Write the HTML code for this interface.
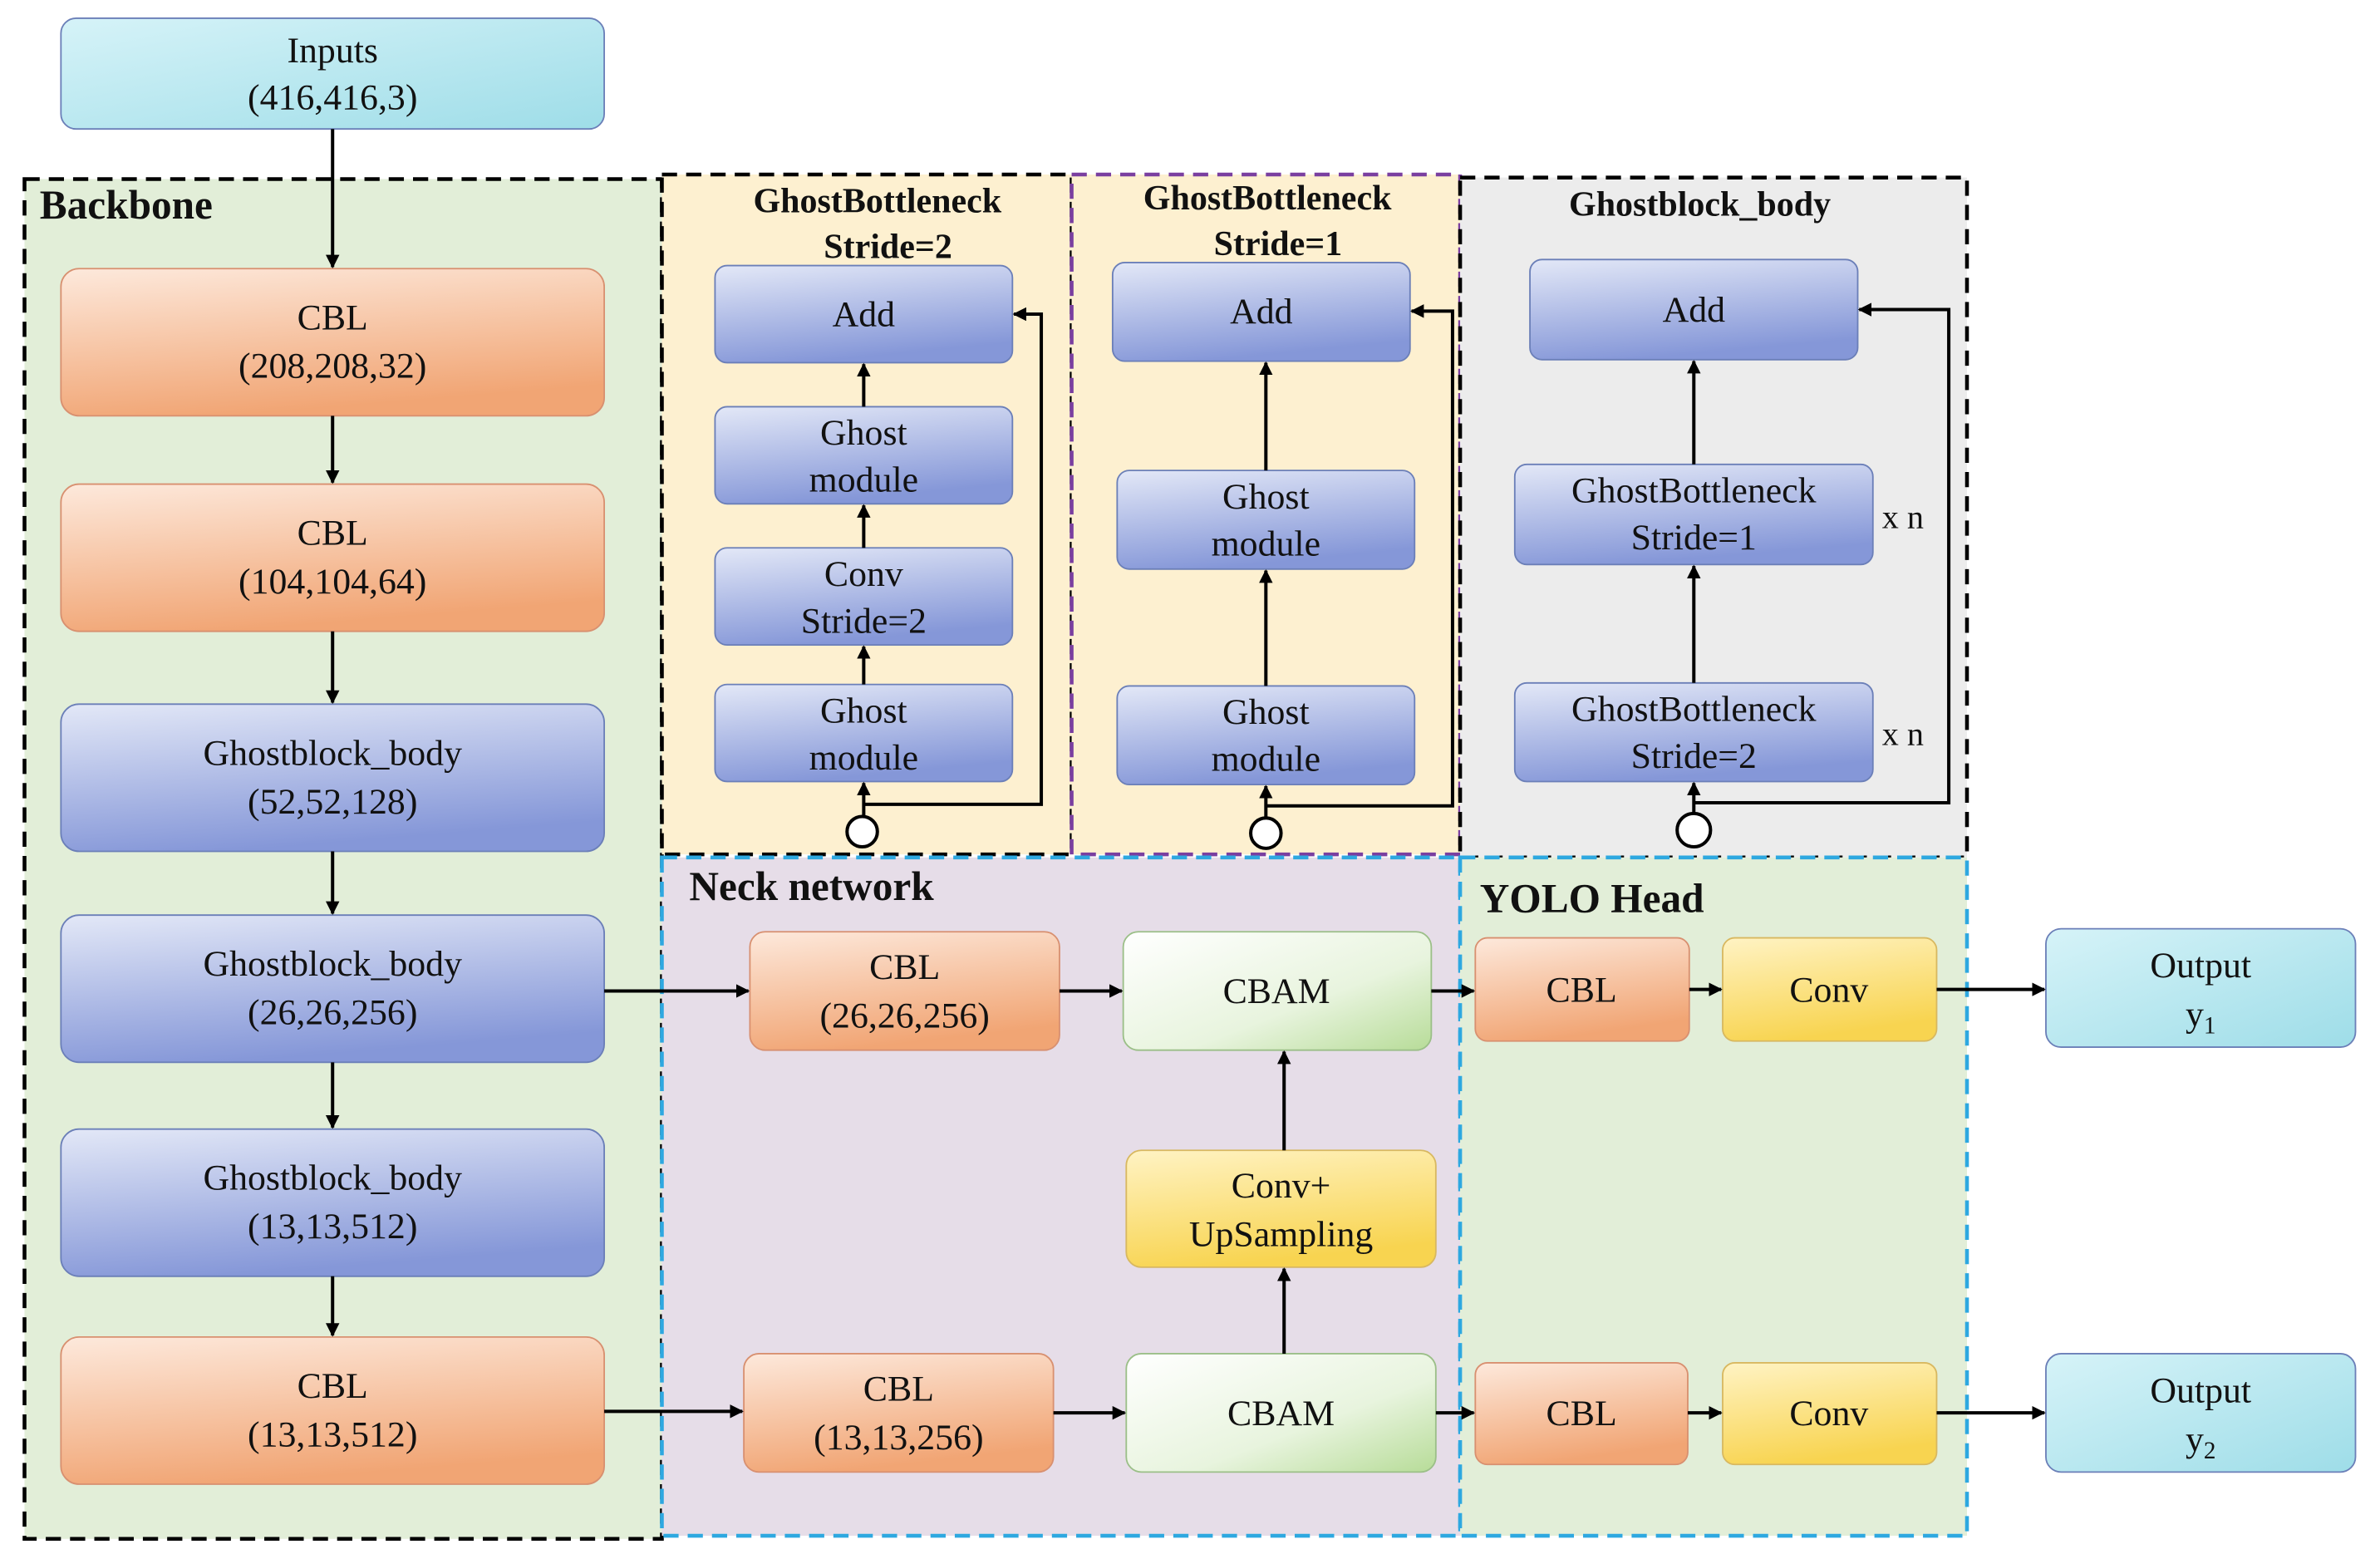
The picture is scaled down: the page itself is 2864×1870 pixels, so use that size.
<!DOCTYPE html>
<html><head><meta charset="utf-8"><style>
html,body{margin:0;padding:0;background:#fff;}
svg{display:block;}
text{font-family:"Liberation Serif","DejaVu Serif",serif !important;fill:#111;}
</style></head><body>
<svg width="2864" height="1870" viewBox="0 0 1568 1024" xmlns="http://www.w3.org/2000/svg" font-family="Liberation Serif, DejaVu Serif, serif">
<defs>
<linearGradient id="cy" x1="0" y1="0" x2="1" y2="1"><stop offset="0" stop-color="#d6f3f8"/><stop offset="1" stop-color="#9edde8"/></linearGradient>
<linearGradient id="or" x1="0" y1="0" x2="0.3" y2="1"><stop offset="0" stop-color="#fde9dc"/><stop offset="1" stop-color="#f1a574"/></linearGradient>
<linearGradient id="bl" x1="0" y1="0" x2="0.3" y2="1"><stop offset="0" stop-color="#e3e8f7"/><stop offset="1" stop-color="#8597d8"/></linearGradient>
<linearGradient id="gr" x1="0" y1="0" x2="1" y2="1"><stop offset="0" stop-color="#ffffff"/><stop offset="0.6" stop-color="#e8f4de"/><stop offset="1" stop-color="#b7dc98"/></linearGradient>
<linearGradient id="ye" x1="0" y1="0" x2="0.3" y2="1"><stop offset="0" stop-color="#fff3c4"/><stop offset="1" stop-color="#f8d450"/></linearGradient>
<marker id="a" viewBox="0 0 10 10" refX="9" refY="5" markerWidth="9" markerHeight="9" markerUnits="userSpaceOnUse" orient="auto"><path d="M0,0 L10,5 L0,10 z" fill="#000"/></marker>
</defs>

<rect x="16" y="118" width="420" height="896" fill="#e2eed8" stroke="#000" stroke-width="2.5" stroke-dasharray="10,6"/>
<rect x="436" y="115" width="270" height="448" fill="#fdf0d0" stroke="#000" stroke-width="2.5" stroke-dasharray="10,6"/>
<rect x="706" y="115" width="256" height="448" fill="#fdf0d0" stroke="#7a3fa0" stroke-width="2.5" stroke-dasharray="10,6"/>
<rect x="962" y="117" width="334" height="448" fill="#ececec" stroke="#000" stroke-width="2.5" stroke-dasharray="10,6"/>
<rect x="436" y="565" width="526" height="447" fill="#e6dde8" stroke="#2ea8e0" stroke-width="2.5" stroke-dasharray="10,6"/>
<rect x="962" y="565" width="334" height="447" fill="#e2eed8" stroke="#2ea8e0" stroke-width="2.5" stroke-dasharray="10,6"/>

<g font-weight="bold" font-size="27">
<text x="26" y="144">Backbone</text>
<text x="454" y="593">Neck network</text>
<text x="975" y="601">YOLO Head</text>
</g>
<g font-weight="bold" font-size="23" text-anchor="middle">
<text x="578" y="140">GhostBottleneck</text><text x="585" y="170">Stride=2</text>
<text x="835" y="138">GhostBottleneck</text><text x="842" y="168">Stride=1</text>
<text x="1120" y="142">Ghostblock_body</text>
</g>

<g stroke="#6b7fb8" stroke-width="1">
<rect x="40" y="12" width="358" height="73" rx="10" fill="url(#cy)"/>
<rect x="40" y="177" width="358" height="97" rx="12" fill="url(#or)" stroke="#d89070"/>
<rect x="40" y="319" width="358" height="97" rx="12" fill="url(#or)" stroke="#d89070"/>
<rect x="40" y="464" width="358" height="97" rx="12" fill="url(#bl)"/>
<rect x="40" y="603" width="358" height="97" rx="12" fill="url(#bl)"/>
<rect x="40" y="744" width="358" height="97" rx="12" fill="url(#bl)"/>
<rect x="40" y="881" width="358" height="97" rx="12" fill="url(#or)" stroke="#d89070"/>
<rect x="471" y="175" width="196" height="64" rx="8" fill="url(#bl)"/>
<rect x="471" y="268" width="196" height="64" rx="8" fill="url(#bl)"/>
<rect x="471" y="361" width="196" height="64" rx="8" fill="url(#bl)"/>
<rect x="471" y="451" width="196" height="64" rx="8" fill="url(#bl)"/>
<rect x="733" y="173" width="196" height="65" rx="8" fill="url(#bl)"/>
<rect x="736" y="310" width="196" height="65" rx="8" fill="url(#bl)"/>
<rect x="736" y="452" width="196" height="65" rx="8" fill="url(#bl)"/>
<rect x="1008" y="171" width="216" height="66" rx="8" fill="url(#bl)"/>
<rect x="998" y="306" width="236" height="66" rx="8" fill="url(#bl)"/>
<rect x="998" y="450" width="236" height="65" rx="8" fill="url(#bl)"/>
<rect x="494" y="614" width="204" height="78" rx="10" fill="url(#or)" stroke="#d89070"/>
<rect x="740" y="614" width="203" height="78" rx="10" fill="url(#gr)" stroke="#9bbf88"/>
<rect x="742" y="758" width="204" height="77" rx="10" fill="url(#ye)" stroke="#d8b860"/>
<rect x="490" y="892" width="204" height="78" rx="10" fill="url(#or)" stroke="#d89070"/>
<rect x="742" y="892" width="204" height="78" rx="10" fill="url(#gr)" stroke="#9bbf88"/>
<rect x="972" y="618" width="141" height="68" rx="8" fill="url(#or)" stroke="#d89070"/>
<rect x="1135" y="618" width="141" height="68" rx="8" fill="url(#ye)" stroke="#d8b860"/>
<rect x="1348" y="612" width="204" height="78" rx="10" fill="url(#cy)"/>
<rect x="972" y="898" width="140" height="67" rx="8" fill="url(#or)" stroke="#d89070"/>
<rect x="1135" y="898" width="141" height="67" rx="8" fill="url(#ye)" stroke="#d8b860"/>
<rect x="1348" y="892" width="204" height="78" rx="10" fill="url(#cy)"/>
</g>

<g font-size="24" text-anchor="middle">
<text x="219" y="41">Inputs</text><text x="219" y="72">(416,416,3)</text>
<text x="219" y="217">CBL</text><text x="219" y="249">(208,208,32)</text>
<text x="219" y="359">CBL</text><text x="219" y="391">(104,104,64)</text>
<text x="219" y="504">Ghostblock_body</text><text x="219" y="536">(52,52,128)</text>
<text x="219" y="643">Ghostblock_body</text><text x="219" y="675">(26,26,256)</text>
<text x="219" y="784">Ghostblock_body</text><text x="219" y="816">(13,13,512)</text>
<text x="219" y="921">CBL</text><text x="219" y="953">(13,13,512)</text>

<text x="569" y="215">Add</text>
<text x="569" y="293">Ghost</text><text x="569" y="324">module</text>
<text x="569" y="386">Conv</text><text x="569" y="417">Stride=2</text>
<text x="569" y="476">Ghost</text><text x="569" y="507">module</text>

<text x="831" y="213">Add</text>
<text x="834" y="335">Ghost</text><text x="834" y="366">module</text>
<text x="834" y="477">Ghost</text><text x="834" y="508">module</text>

<text x="1116" y="212">Add</text>
<text x="1116" y="331">GhostBottleneck</text><text x="1116" y="362">Stride=1</text>
<text x="1116" y="475">GhostBottleneck</text><text x="1116" y="506">Stride=2</text>

<text x="596" y="645">CBL</text><text x="596" y="677">(26,26,256)</text>
<text x="841" y="661">CBAM</text>
<text x="844" y="789">Conv+</text><text x="844" y="821">UpSampling</text>
<text x="592" y="923">CBL</text><text x="592" y="955">(13,13,256)</text>
<text x="844" y="939">CBAM</text>

<text x="1042" y="660">CBL</text><text x="1205" y="660">Conv</text>
<text x="1450" y="644">Output</text><text x="1450" y="676">y<tspan font-size="16" dy="5">1</tspan></text>
<text x="1042" y="939">CBL</text><text x="1205" y="939">Conv</text>
<text x="1450" y="924">Output</text><text x="1450" y="956">y<tspan font-size="16" dy="5">2</tspan></text>
</g>
<g font-size="22"><text x="1240" y="348">x n</text><text x="1240" y="491">x n</text></g>

<g stroke="#000" stroke-width="2.2" fill="none" marker-end="url(#a)">
<line x1="219" y1="85" x2="219" y2="176"/>
<line x1="219" y1="274" x2="219" y2="318"/>
<line x1="219" y1="416" x2="219" y2="463"/>
<line x1="219" y1="561" x2="219" y2="602"/>
<line x1="219" y1="700" x2="219" y2="743"/>
<line x1="219" y1="841" x2="219" y2="880"/>
<line x1="398" y1="653" x2="493" y2="653"/>
<line x1="398" y1="930" x2="489" y2="930"/>
<line x1="698" y1="653" x2="739" y2="653"/>
<line x1="694" y1="931" x2="741" y2="931"/>
<line x1="943" y1="653" x2="971" y2="653"/>
<line x1="946" y1="931" x2="971" y2="931"/>
<line x1="1113" y1="652" x2="1134" y2="652"/>
<line x1="1112" y1="931" x2="1134" y2="931"/>
<line x1="1276" y1="652" x2="1347" y2="652"/>
<line x1="1276" y1="931" x2="1347" y2="931"/>
<line x1="846" y1="892" x2="846" y2="836"/>
<line x1="846" y1="758" x2="846" y2="693"/>
<line x1="569" y1="538" x2="569" y2="516"/>
<line x1="569" y1="451" x2="569" y2="426"/>
<line x1="569" y1="361" x2="569" y2="333"/>
<line x1="569" y1="268" x2="569" y2="240"/>
<polyline points="569,530 686,530 686,207 668,207"/>
<line x1="834" y1="539" x2="834" y2="518"/>
<line x1="834" y1="452" x2="834" y2="376"/>
<line x1="834" y1="310" x2="834" y2="239"/>
<polyline points="834,531 957,531 957,205 930,205"/>
<line x1="1116" y1="537" x2="1116" y2="516"/>
<line x1="1116" y1="450" x2="1116" y2="373"/>
<line x1="1116" y1="306" x2="1116" y2="238"/>
<polyline points="1116,529 1284,529 1284,204 1225,204"/>
</g>
<g stroke="#000" stroke-width="2.2" fill="#fff">
<circle cx="568" cy="548" r="10"/>
<circle cx="834" cy="549" r="10"/>
<circle cx="1116" cy="547" r="11"/>
</g>
</svg>
</body></html>
